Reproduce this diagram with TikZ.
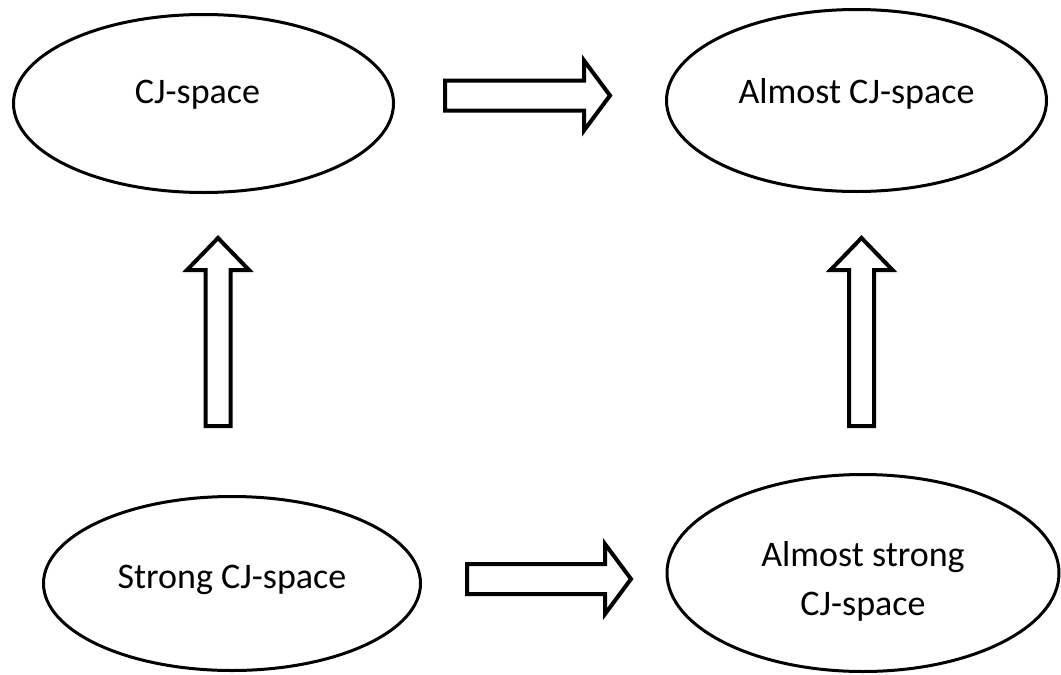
\documentclass[tikz,border=0pt]{standalone}
\usepackage{fontspec}
\setmainfont{Carlito}
\usetikzlibrary{shapes.geometric,calc}
\begin{document}
\begin{tikzpicture}[x=1pt,y=-1pt,
  space/.style={ellipse,draw=black,line width=3pt,inner sep=0pt,
    font=\fontsize{36}{49}\selectfont},
  % hollow block arrow: #1 half shaft width, #2 half head width, #3 head length
  blockarrow/.style n args={3}{draw=black,line width=4pt,line join=miter,
    to path={($(\tikztotarget)!#3!(\tikztostart)$) coordinate (ba-base)
      ($(\tikztostart)!#1!90:(\tikztotarget)$)
      -- ($(ba-base)!#1!90:(\tikztotarget)$)
      -- ($(ba-base)!#2!90:(\tikztotarget)$)
      -- (\tikztotarget)
      -- ($(ba-base)!#2!-90:(\tikztotarget)$)
      -- ($(ba-base)!#1!-90:(\tikztotarget)$)
      -- ($(\tikztostart)!#1!-90:(\tikztotarget)$) -- cycle}}
]
\useasboundingbox (0,0) rectangle (1061,675);

% the four spaces
\node[space,minimum width=380pt,minimum height=178pt,
      text height=14pt,text depth=14pt] (cj) at (203.5,103.5) {CJ-space\kern12pt};
\node[space,minimum width=380pt,minimum height=182pt,
      text height=16.5pt,text depth=11.5pt] (acj) at (856.5,100.5) {Almost CJ-space};
\node[space,minimum width=377pt,minimum height=174pt,
      text height=18.5pt,text depth=9.5pt] (scj) at (232,583.5) {Strong CJ-space};
\node[space,minimum width=392pt,minimum height=197pt,align=center,
      text height=90pt,text depth=6pt] (ascj) at (863,573) {Almost strong\\CJ-space};

% arrow end points
\coordinate (t1) at (445,95.5);   \coordinate (t2) at (610,95.5);
\coordinate (b1) at (467,579);    \coordinate (b2) at (631,579);
\coordinate (l1) at (218,426);    \coordinate (l2) at (218,238);
\coordinate (r1) at (861.5,426);  \coordinate (r2) at (861.5,238);

% implications
\draw[blockarrow={15pt}{35pt}{26pt}] (t1) to (t2);
\draw[blockarrow={15pt}{35pt}{26pt}] (b1) to (b2);
\draw[blockarrow={12.5pt}{31pt}{32pt}] (l1) to (l2);
\draw[blockarrow={12.5pt}{31pt}{32pt}] (r1) to (r2);
\end{tikzpicture}
\end{document}
